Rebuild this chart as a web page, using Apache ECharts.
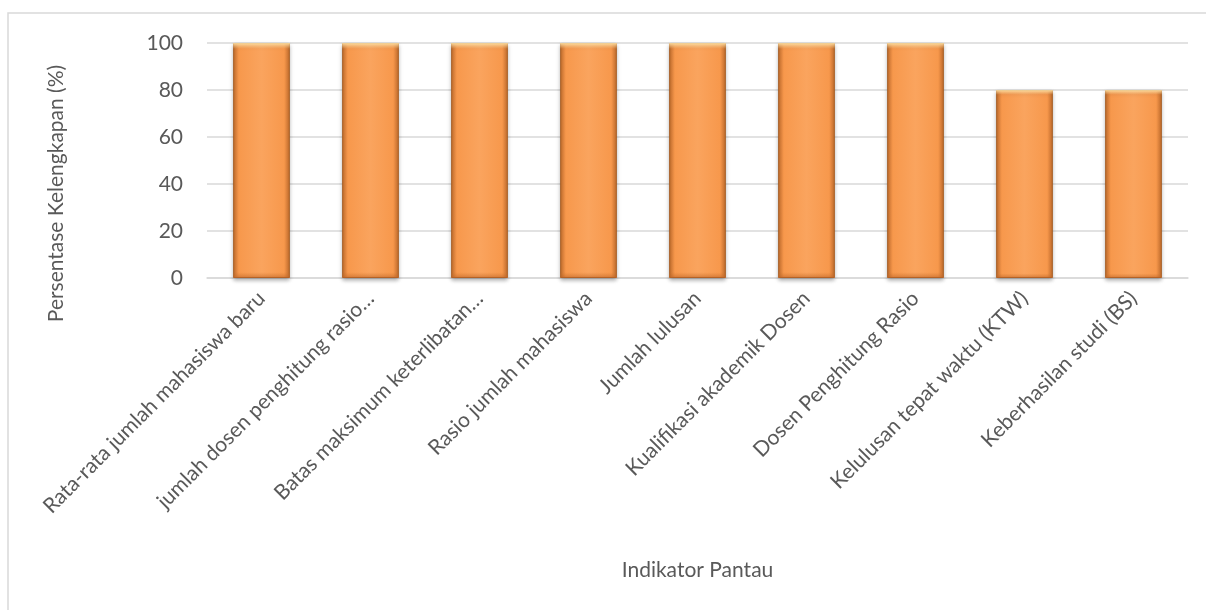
<!DOCTYPE html>
<html><head><meta charset="utf-8">
<script src="https://cdn.jsdelivr.net/npm/echarts@6/dist/echarts.min.js"></script>
<style>html,body{margin:0;padding:0;background:#fff}#c{width:1206px;height:610px}</style>
</head><body><div id="c"></div>
<script>
const categories = ["Rata-rata jumlah mahasiswa baru","jumlah dosen penghitung rasio…","Batas maksimum keterlibatan…","Rasio jumlah mahasiswa","Jumlah lulusan","Kualifikasi akademik Dosen","Dosen Penghitung Rasio","Kelulusan tepat waktu (KTW)","Keberhasilan studi (BS)"];
const values = [100,100,100,100,100,100,100,80,80];
const yTicks = {min:0,max:100,interval:20};
const font = "Lato, 'Open Sans', sans-serif";
const fs = 21;
const chart = echarts.init(document.getElementById('c'));
chart.setOption({
  animation:false,
  graphic:[{type:'rect',shape:{x:8,y:13,width:1300,height:700},style:{fill:null,stroke:'#d9d9d9',lineWidth:1.5},z:-1}],
  grid:{left:207,right:18,top:43,bottom:332},
  xAxis:{type:'category',data:categories,
    axisLine:{lineStyle:{color:'#d9d9d9',width:1.5}},axisTick:{show:false},
    axisLabel:{rotate:45,interval:0,color:'#595959',fontSize:fs,fontFamily:font,margin:17},
    name:'Indikator Pantau',nameLocation:'middle',nameGap:282,
    nameTextStyle:{color:'#595959',fontSize:fs,fontFamily:font}},
  yAxis:{type:'value',min:yTicks.min,max:yTicks.max,interval:yTicks.interval,
    axisLine:{show:false},axisTick:{show:false},
    splitLine:{lineStyle:{color:'#d9d9d9',width:1.5}},
    axisLabel:{color:'#595959',fontSize:fs,fontFamily:font,margin:24},
    name:'Persentase Kelengkapan (%)',nameLocation:'middle',nameGap:140,
    nameTextStyle:{color:'#595959',fontSize:fs,fontFamily:font,padding:[0,66,0,0]}},
  series:[{type:'bar',data:values,barWidth:'52%',
    itemStyle:{
      color:new echarts.graphic.LinearGradient(0,0,1,0,[
        {offset:0,color:'#C8702E'},{offset:0.1,color:'#F7984C'},
        {offset:0.5,color:'#FAA45E'},{offset:0.9,color:'#F7984C'},{offset:1,color:'#C8702E'}]),
      borderColor:'#A85E24',borderWidth:1,
      shadowColor:'rgba(0,0,0,0.3)',shadowBlur:4,shadowOffsetY:2}
  },{type:'bar',data:values,barWidth:'52%',barGap:'-100%',silent:true,
    itemStyle:{color:new echarts.graphic.LinearGradient(0,0,0,1,[
        {offset:0,color:'rgba(255,230,170,0.9)'},{offset:0.025,color:'rgba(255,220,160,0.0)'},
        {offset:0.975,color:'rgba(200,110,40,0)'},{offset:1,color:'rgba(190,100,40,0.6)'}])}
  }]
});
</script></body></html>
